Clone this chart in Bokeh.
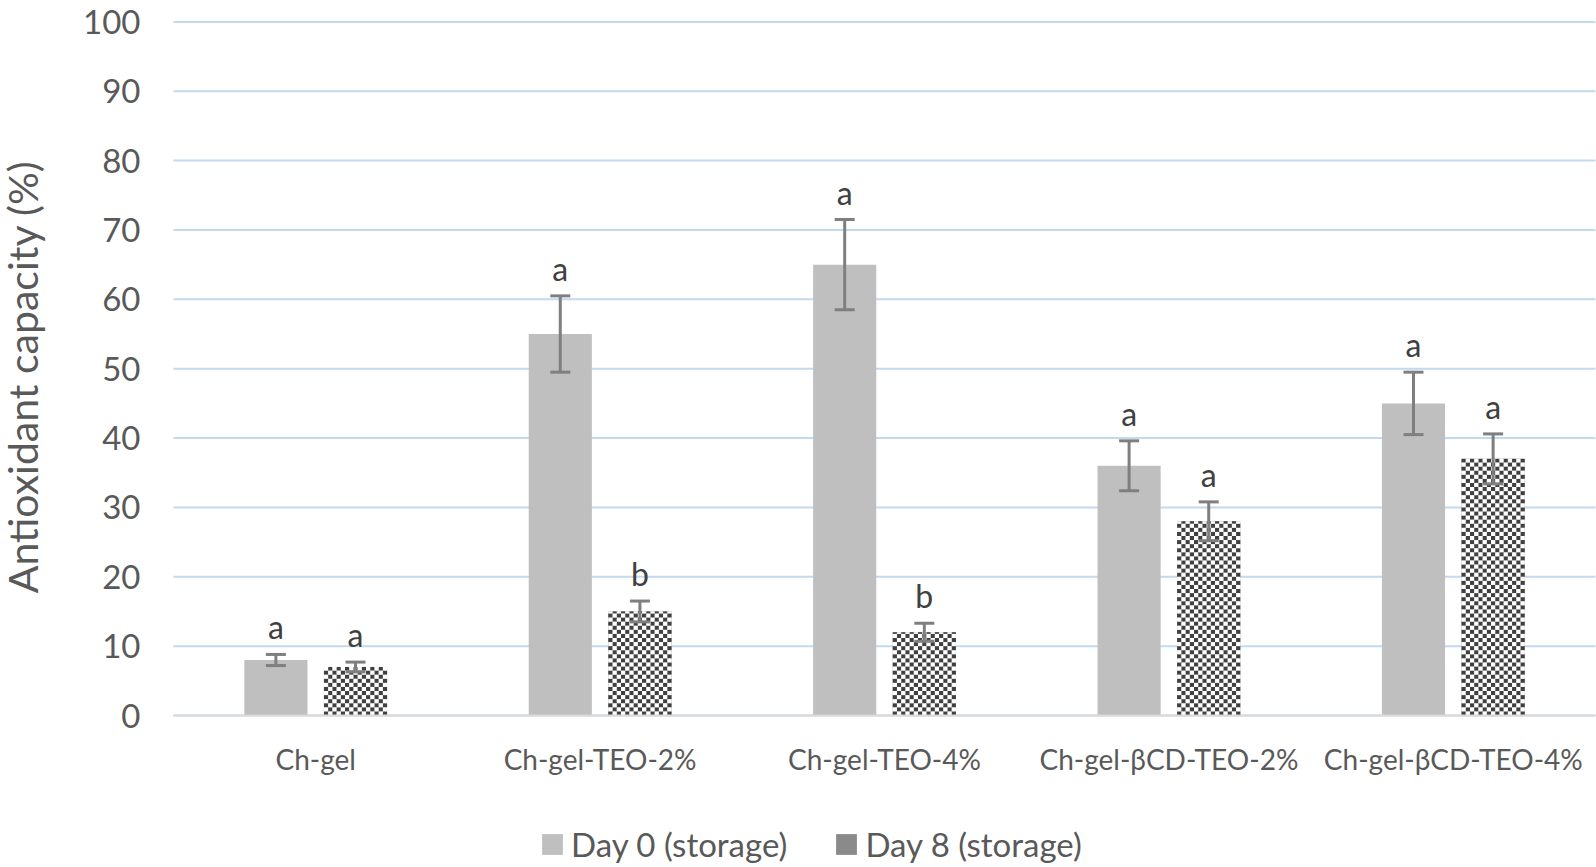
import math
import numpy as np
from bokeh.plotting import figure
from bokeh.models import (ColumnDataSource, Whisker, TeeHead, Legend, LegendItem, Range1d,
                          FixedTicker, LabelSet, Label)
from bokeh.core.properties import value
from bokeh.embed import file_html
from bokeh.resources import INLINE

categories = ["Ch-gel", "Ch-gel-TEO-2%", "Ch-gel-TEO-4%", "Ch-gel-\u03b2CD-TEO-2%", "Ch-gel-\u03b2CD-TEO-4%"]
day0 = [8, 55, 65, 36, 45]
day0_err = [0.8, 5.5, 6.5, 3.6, 4.5]
day0_letters = ["a", "a", "a", "a", "a"]
day8 = [7, 15, 12, 28, 37]
day8_err = [0.7, 1.5, 1.3, 2.8, 3.6]
day8_letters = ["a", "b", "b", "a", "a"]
series_names = ["Day 0 (storage)", "Day 8 (storage)"]
y_ticks = list(range(0, 101, 10))
y_title = "Antioxidant capacity (%)"

FONT = "Lato"
TEXT = "#595959"
OFF = 0.14      # dodge of each series from category centre
BW = 0.222      # bar width (category units)
N_COLS = 15     # checker columns per bar
DY = 10 / 17    # checker row height (data units)

# page layout (px): plot area of the categories and of the 0-100 scale
W, H = 1596, 867
AREA_L, AREA_R = 173, 1595
AREA_T, AREA_B = 21.4, 715

n = len(categories)
X0, X1 = -0.5, n - 0.5
Y0, Y1 = 0, 100
kx = (AREA_R - AREA_L) / (X1 - X0)
ky = (AREA_B - AREA_T) / (Y1 - Y0)
x_range = Range1d(X0 - AREA_L / kx, X1 + (W - AREA_R) / kx)
y_range = Range1d(Y0 - (H - AREA_B) / ky, Y1 + AREA_T / ky)

idx = np.arange(n)


def make_src(vals, errs, labs, off):
    v = np.array(vals, float)
    e = np.array(errs, float)
    return ColumnDataSource(dict(x=idx + off, v=v, lo=v - e, hi=v + e, lab=labs))


src0 = make_src(day0, day0_err, day0_letters, -OFF)
src8 = make_src(day8, day8_err, day8_letters, OFF)

p = figure(width=W, height=H, x_range=x_range, y_range=y_range,
           min_border_left=0, min_border_top=0, min_border_right=0, min_border_bottom=0,
           output_backend="svg", toolbar_location=None)
p.outline_line_color = None

# horizontal grid lines over the category area only
p.xgrid.grid_line_color = None
p.ygrid.grid_line_color = None
p.segment(x0=[X0] * len(y_ticks), x1=[X1] * len(y_ticks), y0=y_ticks, y1=y_ticks,
          line_color="#c5d9ee", line_width=2, level="underlay")

r0 = p.vbar(x="x", top="v", width=BW, source=src0, fill_color="#bfbfbf", line_color=None)
# grey body (used as legend swatch) fully covered by the checker cells below
r8 = p.vbar(x="x", top="v", width=BW, source=src8, fill_color="#8a8a8a", line_color=None)

# checker pattern of the Day 8 bars, derived from the bar values
cells = {0: ([], [], [], []), 1: ([], [], [], [])}
cw = BW / N_COLS
for xc, v in zip(src8.data["x"], src8.data["v"]):
    x0 = xc - BW / 2
    nrows = int(np.ceil(v / DY))
    for r in range(nrows):
        for c in range(N_COLS):
            L, R, B, T = cells[(r + c) % 2]
            L.append(x0 + c * cw)
            R.append(x0 + (c + 1) * cw)
            B.append(r * DY)
            T.append(min((r + 1) * DY, v))
for k, col in ((0, "#404040"), (1, "#ffffff")):
    L, R, B, T = cells[k]
    p.quad(left=L, right=R, bottom=B, top=T, fill_color=col, line_color=None)

for src in (src0, src8):
    w = Whisker(base="x", upper="hi", lower="lo", source=src, level="overlay",
                line_color="#7f7f7f", line_width=3,
                upper_head=TeeHead(size=20, line_color="#7f7f7f", line_width=3),
                lower_head=TeeHead(size=20, line_color="#7f7f7f", line_width=3))
    p.add_layout(w)
    p.add_layout(LabelSet(x="x", y="hi", text="lab", source=src, y_offset=15,
                          text_align="center", text_baseline="alphabetic",
                          text_font=value(FONT), text_font_size=value("32px"),
                          text_color=value("#404040")))

# y axis drawn at the left edge of the category area
p.yaxis.fixed_location = X0
p.yaxis.ticker = FixedTicker(ticks=y_ticks)
p.yaxis.axis_line_color = None
p.yaxis.major_tick_line_color = None
p.yaxis.minor_tick_line_color = None
p.yaxis.major_label_text_font = FONT
p.yaxis.major_label_text_font_size = "33px"
p.yaxis.major_label_text_color = TEXT
p.yaxis.major_label_standoff = 27

# y title, centred on the 0-100 span
p.add_layout(Label(x=22.4, y=H - (AREA_T + AREA_B) / 2 - 8, x_units="screen", y_units="screen",
                   text=y_title, angle=math.pi / 2, text_align="center", text_baseline="middle",
                   text_font=FONT, text_font_size="41px", text_color=TEXT))

# x axis drawn on the zero line
p.xaxis.fixed_location = 0
p.xaxis.bounds = (X0, X1)
p.xaxis.ticker = FixedTicker(ticks=list(idx))
p.xaxis.major_label_overrides = {int(i): c for i, c in zip(idx, categories)}
p.xaxis.axis_line_color = "#d9d9d9"
p.xaxis.axis_line_width = 2
p.xaxis.major_tick_line_color = None
p.xaxis.minor_tick_line_color = None
p.xaxis.major_label_text_font = FONT
p.xaxis.major_label_text_font_size = "28px"
p.xaxis.major_label_text_color = TEXT
p.xaxis.major_label_standoff = 20

legend = Legend(items=[LegendItem(label=series_names[0], renderers=[r0]),
                       LegendItem(label=series_names[1], renderers=[r8])],
                orientation="horizontal", location=(539, 3),
                label_text_font=FONT, label_text_font_size="33px", label_text_color=TEXT,
                glyph_width=26, glyph_height=26, spacing=46, label_standoff=6,
                border_line_color=None, background_fill_alpha=0, margin=0, padding=0)
p.add_layout(legend, "center")

open("out.html", "w").write(file_html(p, INLINE))
